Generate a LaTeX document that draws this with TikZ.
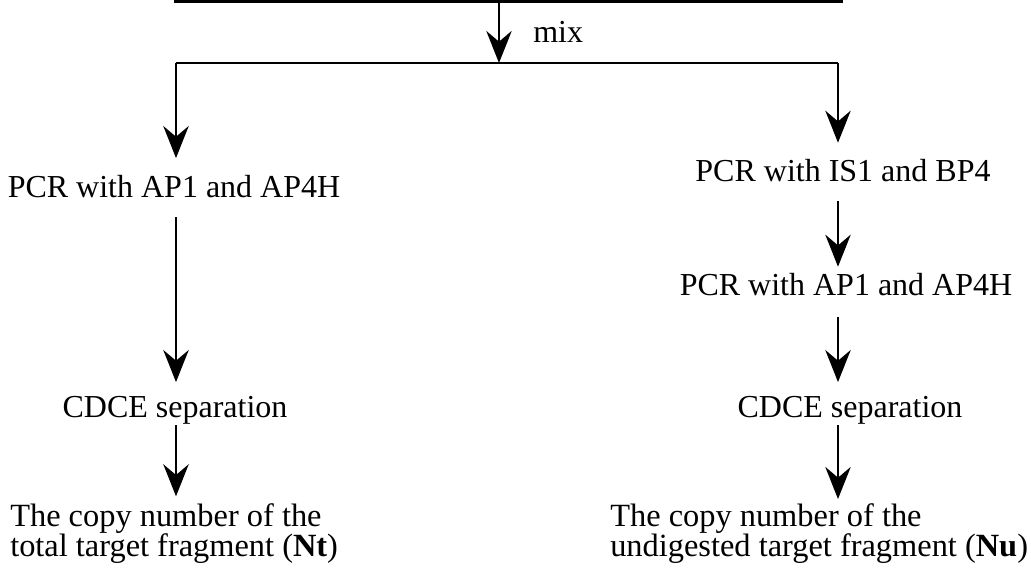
\documentclass[tikz,border=0pt]{standalone}
\usepackage{fontspec}
\setmainfont{Liberation Serif}
\usetikzlibrary{arrows.meta}

\tikzset{
  wire/.style={line width=2.2pt},
  arr/.style={wire, -{Stealth[length=24pt, width=19pt, inset=8pt]}},
  lbl/.style={font=\fontsize{24}{28}\selectfont, inner sep=0pt,
    text height=16pt, text depth=5pt, anchor=base},
  res/.style={font=\fontsize{24.3}{23}\selectfont, inner sep=0pt,
    align=left, anchor=north west}
}

\begin{document}
\begin{tikzpicture}[x=0.75pt, y=-0.75pt]
      \useasboundingbox (0,0) rectangle (1031,576);
      % top bar and the mixing step
      \coordinate (tl) at (174,1.5);
      \coordinate (tr) at (843,1.5);
      \coordinate (mixtop) at (499,1.5);
      \coordinate (sl) at (176,63);
      \coordinate (sr) at (838,63);
      \draw[wire] (tl) -- (tr);
      \draw[arr] (mixtop) -- (mixtop |- sl);
      \node[lbl, anchor=base west] (mix) at (533,42) {mix};
      \draw[wire] (sl) -- (sr);
      % left branch
      \node[lbl] (pcrL) at (174,197) {PCR with AP1 and AP4H};
      \node[lbl] (cdceL) at (175,417) {CDCE separation};
      \node[res] (finL) at (10,503) {The copy number of the\\total target fragment (\textbf{Nt})};
      \draw[arr, shorten >=13pt] (sl) -- (sl |- pcrL.north);
      \draw[arr, shorten <=10pt, shorten >=10pt] (pcrL.south -| sl) -- (sl |- cdceL.north);
      \draw[arr, shorten <=1pt, shorten >=5pt] (cdceL.south -| sl) -- (sl |- finL.north);
      % right branch
      \node[lbl] (is1) at (843,181) {PCR with IS1 and BP4};
      \node[lbl] (pcrR) at (846,295) {PCR with AP1 and AP4H};
      \node[lbl] (cdceR) at (850,417) {CDCE separation};
      \node[res] (finR) at (610,503) {The copy number of the\\undigested target fragment (\textbf{Nu})};
      \draw[arr, shorten >=12.5pt] (sr) -- (sr |- is1.north);
      \draw[arr, shorten <=10pt, shorten >=5pt] (is1.south -| sr) -- (sr |- pcrR.north);
      \draw[arr, shorten <=11pt, shorten >=10pt] (pcrR.south -| sr) -- (sr |- cdceR.north);
      \draw[arr, shorten <=1pt, shorten >=3pt] (cdceR.south -| sr) -- (sr |- finR.north);
\end{tikzpicture}
\end{document}
